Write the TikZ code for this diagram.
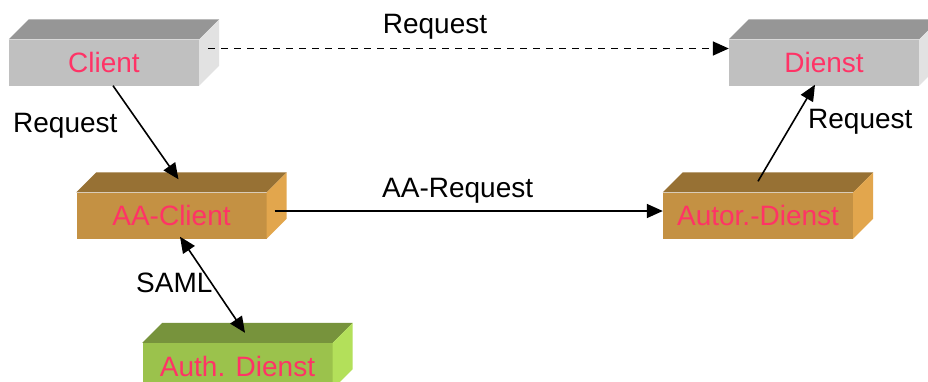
\documentclass[tikz,border=0pt]{standalone}
\usepackage{fontspec}
\setmainfont{Liberation Sans}
\usetikzlibrary{arrows.meta}
\definecolor{pinktext}{RGB}{255,51,102}
\definecolor{greyfront}{RGB}{192,192,192}
\definecolor{greytop}{RGB}{150,150,150}
\definecolor{greyside}{RGB}{226,226,226}
\definecolor{tanfront}{RGB}{196,145,67}
\definecolor{tantop}{RGB}{151,113,52}
\definecolor{tanside}{RGB}{226,166,77}
\definecolor{greenfront}{RGB}{155,194,76}
\definecolor{greentop}{RGB}{119,147,60}
\definecolor{greenside}{RGB}{179,224,90}
\tikzset{
  frontface/.style={rectangle, minimum width=190pt, minimum height=46pt, inner sep=0pt,
    text=pinktext, font=\fontsize{28}{32}\selectfont},
  lbl/.style={inner sep=0pt, font=\fontsize{28}{32}\selectfont, text=black},
  conn/.style={line width=1.6pt, -{Triangle[length=16pt,width=14pt]}},
  dconn/.style={line width=1.6pt, {Triangle[length=16pt,width=14pt]}-{Triangle[length=16pt,width=14pt]}},
}
\newcommand\threedbox[6]{%
  \node[frontface, fill=#3] (#1) at #2 {#6};
  \fill[#4] (#1.north west) -- (#1.north east) -- ++(20,-20) -- ([shift={(20,-20)}]#1.north west) -- cycle;
  \fill[#5] (#1.north east) -- (#1.south east) -- ++(20,-20) -- ([shift={(20,-20)}]#1.north east) -- cycle;
}
\begin{document}
\begin{tikzpicture}[x=1pt,y=-1pt]
\clip (0,0) rectangle (928,381);
\useasboundingbox (0,0) rectangle (928,381);
\fill[white] (0,0) rectangle (928,381);
\threedbox{client}{(104,62.5)}{greyfront}{greytop}{greyside}{Client}
\threedbox{dienst}{(824,62.5)}{greyfront}{greytop}{greyside}{Dienst}
\threedbox{aaclient}{(171.5,215.5)}{tanfront}{tantop}{tanside}{AA-Client}
\threedbox{autor}{(758,215.5)}{tanfront}{tantop}{tanside}{Autor.-Dienst}
\threedbox{auth}{(237.5,366)}{greenfront}{greentop}{greenside}{Auth. Dienst}
% labels
\node[lbl, anchor=base] (l1) at (435,33) {Request};
\node[lbl, anchor=base west] (l2) at (13,132) {Request};
\node[lbl, anchor=base west] (l3) at (382,197) {AA-Request};
\node[lbl, anchor=base west] (l4) at (808,128) {Request};
\node[lbl, anchor=base west] (l5) at (136,292) {SAML};
% connectors
\draw[conn, dashed, dash pattern=on 7pt off 6pt] ([shift={(9,-14)}]client.east) -- ([shift={(0,-14)}]dienst.west);
\draw[conn] ([shift={(9,0)}]client.south) -- ([shift={(7,-13)}]aaclient.north);
\draw[conn] ([shift={(8,-4.5)}]aaclient.east) -- ([shift={(0,-4.5)}]autor.west);
\draw[conn] ([shift={(0,-11)}]autor.north) -- ([shift={(-9,-1)}]dienst.south);
\draw[dconn] ([shift={(8.5,-2)}]aaclient.south) -- ([shift={(7.5,-10)}]auth.north);
\end{tikzpicture}
\end{document}
